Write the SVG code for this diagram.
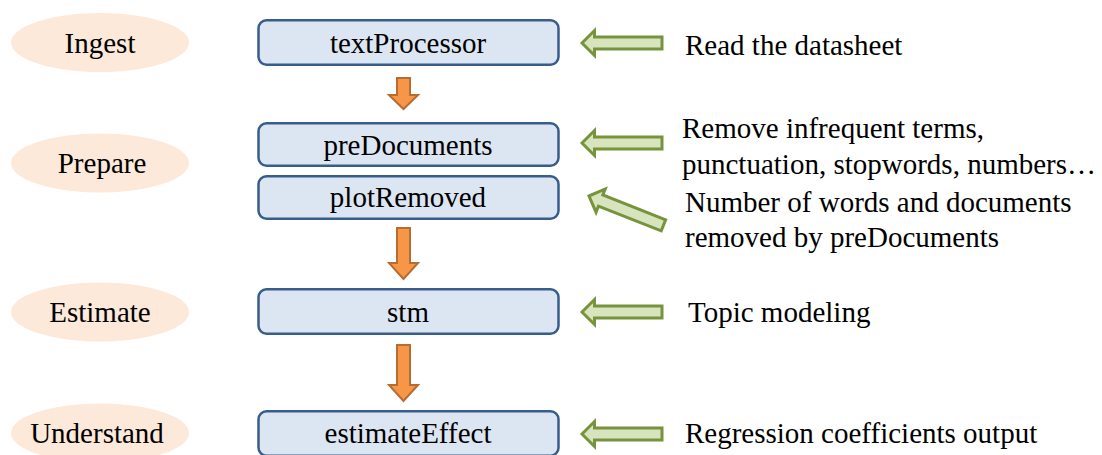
<svg xmlns="http://www.w3.org/2000/svg" width="1102" height="455" viewBox="0 0 1102 455">
  <defs>
    <style>
      text { font-family: "Liberation Serif", "Times New Roman", serif; font-size: 29px; fill: #000; }
      .mid { text-anchor: middle; }
      .stage { fill: #FDE9D9; stroke: none; }
      .step { fill: #DCE6F2; stroke: #385D8A; stroke-width: 2.5; }
      .flow { fill: #F79646; stroke: #B66D31; stroke-width: 2; stroke-linejoin: miter; }
      .note { fill: #D7E4BD; stroke: #77933C; stroke-width: 3; stroke-linejoin: miter; }
    </style>
    <!-- left-pointing block arrow, tip at the origin -->
    <path id="noteArrow" d="M0,0 L12.5,-12.5 L12.5,-6 L80,-6 L80,6 L12.5,6 L12.5,12.5 Z"/>
  </defs>

  <!-- stage labels -->
  <g id="stage-ingest">
    <ellipse class="stage" cx="100" cy="42.5" rx="89" ry="29.5"/>
    <text class="mid" x="100" y="53">Ingest</text>
  </g>
  <g id="stage-prepare">
    <ellipse class="stage" cx="100" cy="163" rx="89" ry="29.5"/>
    <text class="mid" x="102" y="173">Prepare</text>
  </g>
  <g id="stage-estimate">
    <ellipse class="stage" cx="100" cy="312" rx="89" ry="29.5"/>
    <text class="mid" x="100" y="322">Estimate</text>
  </g>
  <g id="stage-understand">
    <ellipse class="stage" cx="100" cy="433" rx="89" ry="29.5"/>
    <text class="mid" x="97" y="443">Understand</text>
  </g>

  <!-- function steps -->
  <g id="step-textProcessor">
    <rect class="step" x="258.5" y="20.25" width="300" height="44.5" rx="8"/>
    <text class="mid" x="408" y="53">textProcessor</text>
  </g>
  <g id="step-preDocuments">
    <rect class="step" x="258.5" y="123.25" width="300" height="42.5" rx="8"/>
    <text class="mid" x="408" y="155">preDocuments</text>
  </g>
  <g id="step-plotRemoved">
    <rect class="step" x="258.5" y="176.25" width="300" height="42.5" rx="8"/>
    <text class="mid" x="408" y="207">plotRemoved</text>
  </g>
  <g id="step-stm">
    <rect class="step" x="258.5" y="289.25" width="300" height="44.5" rx="8"/>
    <text class="mid" x="408" y="322">stm</text>
  </g>
  <g id="step-estimateEffect">
    <rect class="step" x="258.5" y="411.25" width="300" height="44.5" rx="8"/>
    <text class="mid" x="408" y="443">estimateEffect</text>
  </g>

  <!-- connectors -->
  <g id="connectors">
    <path class="flow" d="M397,78 L410,78 L410,95 L418,95 L403.5,109 L389,95 L397,95 Z"/>
    <path class="flow" d="M397,228 L410,228 L410,263 L418,263 L403.5,279 L389,263 L397,263 Z"/>
    <path class="flow" d="M397,345 L410,345 L410,385 L418,385 L403.5,401 L389,385 L397,385 Z"/>

    <use href="#noteArrow" class="note" transform="translate(582,43)"/>
    <use href="#noteArrow" class="note" transform="translate(582,143)"/>
    <use href="#noteArrow" class="note" transform="translate(589,196) rotate(21.5)"/>
    <use href="#noteArrow" class="note" transform="translate(582,312)"/>
    <use href="#noteArrow" class="note" transform="translate(582,434)"/>
  </g>

  <!-- notes -->
  <g id="note-read">
    <text x="685" y="55">Read the datasheet</text>
  </g>
  <g id="note-remove">
    <text x="682" y="138">Remove infrequent terms,</text>
    <text x="682" y="174">punctuation, stopwords, numbers…</text>
  </g>
  <g id="note-removed">
    <text x="685" y="212">Number of words and documents</text>
    <text x="685" y="247">removed by preDocuments</text>
  </g>
  <g id="note-topic">
    <text x="688" y="322">Topic modeling</text>
  </g>
  <g id="note-regression">
    <text x="685" y="443">Regression coefficients output</text>
  </g>
</svg>
